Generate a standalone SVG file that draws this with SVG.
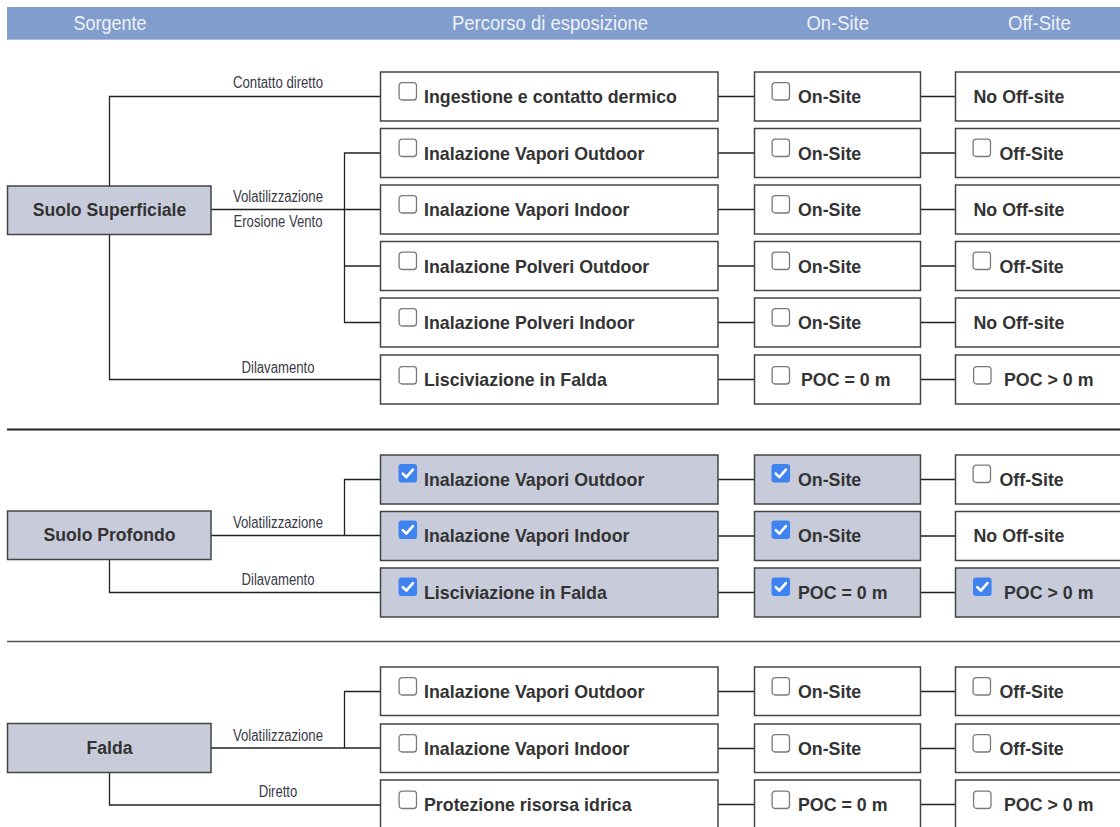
<svg xmlns="http://www.w3.org/2000/svg" xmlns:xlink="http://www.w3.org/1999/xlink" width="1120" height="827" viewBox="0 0 1120 827">
<style>
.hdr{fill:#819dcd}
.ht{font-family:"Liberation Sans",Arial,sans-serif;font-size:21px;fill:#edf1f8;text-anchor:middle}
.box{fill:#fff;stroke:#444;stroke-width:1.5}
.sel{fill:#c8cbda;stroke:#444;stroke-width:1.5}
.bt{font-family:"Liberation Sans",Arial,sans-serif;font-size:17.8px;font-weight:bold;fill:#333}
.st{font-family:"Liberation Sans",Arial,sans-serif;font-size:17.6px;font-weight:bold;fill:#333;text-anchor:middle}
.lbl{font-family:"Liberation Sans",Arial,sans-serif;font-size:16px;fill:#3a3a48;text-anchor:middle}
.con{fill:none;stroke:#222;stroke-width:1.3}
</style>
<defs>
<g id="cbOff"><rect x="0.6" y="0.6" width="17.4" height="17.4" rx="3" fill="#fff" stroke="#7a7a7a" stroke-width="1.3"/></g>
<g id="cbOn"><rect x="0" y="0" width="18.6" height="18.6" rx="3" fill="#3f83f0"/><path d="M4.3 9.6 L7.8 13.2 L14.4 5.6" fill="none" stroke="#fff" stroke-width="2.6" stroke-linecap="round" stroke-linejoin="round"/></g>
</defs>
<rect width="1120" height="827" fill="#fff"/>
<g id="header">
<rect class="hdr" x="7" y="7" width="1113" height="33"/>
<line x1="7" y1="39.5" x2="1120" y2="39.5" stroke="#a9bde0" stroke-width="1"/>
<text class="ht" x="110" y="30" textLength="73" lengthAdjust="spacingAndGlyphs">Sorgente</text>
<text class="ht" x="550" y="30" textLength="196" lengthAdjust="spacingAndGlyphs">Percorso di esposizione</text>
<text class="ht" x="837.7" y="30" textLength="62.6" lengthAdjust="spacingAndGlyphs">On-Site</text>
<text class="ht" x="1039.4" y="30" textLength="62.7" lengthAdjust="spacingAndGlyphs">Off-Site</text>
</g>
<g id="connectors">
<path class="con" d="M109.5 186 V96.5 H380"/>
<path class="con" d="M211 209.5 H380"/>
<path class="con" d="M380 153 H344.5 V322.5 H380 M344.5 266 H380"/>
<path class="con" d="M109.5 234 V379.5 H380"/>
<path class="con" d="M718 96.5 H754 M920 96.5 H955 M718 153 H754 M920 153 H955 M718 209.5 H754 M920 209.5 H955 M718 266 H754 M920 266 H955 M718 322.5 H754 M920 322.5 H955 M718 379.5 H754 M920 379.5 H955"/>
<path class="con" d="M211 535.5 H380 M380 479.5 H344.5 V535.5"/>
<path class="con" d="M109.5 559 V592.5 H380"/>
<path class="con" d="M718 479.5 H754 M920 479.5 H955 M718 536 H754 M920 536 H955 M718 592.5 H754 M920 592.5 H955"/>
<path class="con" d="M211 748 H380 M380 691.5 H344.5 V748"/>
<path class="con" d="M109.5 772.5 V805 H380"/>
<path class="con" d="M718 691.5 H754 M920 691.5 H955 M718 748.5 H754 M920 748.5 H955 M718 804.5 H754 M920 804.5 H955"/>
<text class="lbl" x="278" y="88" textLength="90" lengthAdjust="spacingAndGlyphs">Contatto diretto</text>
<text class="lbl" x="278" y="202" textLength="90" lengthAdjust="spacingAndGlyphs">Volatilizzazione</text>
<text class="lbl" x="278" y="227" textLength="89" lengthAdjust="spacingAndGlyphs">Erosione Vento</text>
<text class="lbl" x="278" y="373" textLength="73" lengthAdjust="spacingAndGlyphs">Dilavamento</text>
<text class="lbl" x="278" y="528" textLength="90" lengthAdjust="spacingAndGlyphs">Volatilizzazione</text>
<text class="lbl" x="278" y="585" textLength="73" lengthAdjust="spacingAndGlyphs">Dilavamento</text>
<text class="lbl" x="278" y="741" textLength="90" lengthAdjust="spacingAndGlyphs">Volatilizzazione</text>
<text class="lbl" x="278" y="797" textLength="38.5" lengthAdjust="spacingAndGlyphs">Diretto</text>
</g>
<g id="separators">
<line x1="7" y1="429.5" x2="1120" y2="429.5" stroke="#222" stroke-width="2"/>
<line x1="7" y1="641.5" x2="1120" y2="641.5" stroke="#555" stroke-width="1.5"/>
</g>
<!-- Sources -->
<g id="src-suolo-superficiale"><rect class="sel" x="7.5" y="186" width="203.5" height="48.5"/><text class="st" x="109.5" y="216">Suolo Superficiale</text></g>
<g id="src-suolo-profondo"><rect class="sel" x="7.5" y="511" width="203.5" height="48.5"/><text class="st" x="109.5" y="541">Suolo Profondo</text></g>
<g id="src-falda"><rect class="sel" x="7.5" y="723.5" width="203.5" height="49"/><text class="st" x="109.5" y="754">Falda</text></g>
<!-- Section 1 -->
<g id="p1"><rect class="box" x="380.5" y="72" width="337.5" height="49"/><use href="#cbOff" x="398.5" y="82"/><text class="bt" x="424" y="103">Ingestione e contatto dermico</text></g>
<g id="on1"><rect class="box" x="754.5" y="72" width="166" height="49"/><use href="#cbOff" x="771.5" y="82"/><text class="bt" x="798" y="103">On-Site</text></g>
<g id="off1"><rect class="box" x="955.5" y="72" width="170" height="49"/><text class="bt" x="973.5" y="103">No Off-site</text></g>
<g id="p2"><rect class="box" x="380.5" y="128.5" width="337.5" height="49"/><use href="#cbOff" x="398.5" y="138.5"/><text class="bt" x="424" y="159.5">Inalazione Vapori Outdoor</text></g>
<g id="on2"><rect class="box" x="754.5" y="128.5" width="166" height="49"/><use href="#cbOff" x="771.5" y="138.5"/><text class="bt" x="798" y="159.5">On-Site</text></g>
<g id="off2"><rect class="box" x="955.5" y="128.5" width="170" height="49"/><use href="#cbOff" x="972.5" y="138.5"/><text class="bt" x="999.5" y="159.5">Off-Site</text></g>
<g id="p3"><rect class="box" x="380.5" y="185" width="337.5" height="49"/><use href="#cbOff" x="398.5" y="195"/><text class="bt" x="424" y="216">Inalazione Vapori Indoor</text></g>
<g id="on3"><rect class="box" x="754.5" y="185" width="166" height="49"/><use href="#cbOff" x="771.5" y="195"/><text class="bt" x="798" y="216">On-Site</text></g>
<g id="off3"><rect class="box" x="955.5" y="185" width="170" height="49"/><text class="bt" x="973.5" y="216">No Off-site</text></g>
<g id="p4"><rect class="box" x="380.5" y="241.5" width="337.5" height="49"/><use href="#cbOff" x="398.5" y="251.5"/><text class="bt" x="424" y="272.5">Inalazione Polveri Outdoor</text></g>
<g id="on4"><rect class="box" x="754.5" y="241.5" width="166" height="49"/><use href="#cbOff" x="771.5" y="251.5"/><text class="bt" x="798" y="272.5">On-Site</text></g>
<g id="off4"><rect class="box" x="955.5" y="241.5" width="170" height="49"/><use href="#cbOff" x="972.5" y="251.5"/><text class="bt" x="999.5" y="272.5">Off-Site</text></g>
<g id="p5"><rect class="box" x="380.5" y="298" width="337.5" height="49"/><use href="#cbOff" x="398.5" y="308"/><text class="bt" x="424" y="329">Inalazione Polveri Indoor</text></g>
<g id="on5"><rect class="box" x="754.5" y="298" width="166" height="49"/><use href="#cbOff" x="771.5" y="308"/><text class="bt" x="798" y="329">On-Site</text></g>
<g id="off5"><rect class="box" x="955.5" y="298" width="170" height="49"/><text class="bt" x="973.5" y="329">No Off-site</text></g>
<g id="p6"><rect class="box" x="380.5" y="355" width="337.5" height="49"/><use href="#cbOff" x="398.5" y="366"/><text class="bt" x="424" y="386">Lisciviazione in Falda</text></g>
<g id="on6"><rect class="box" x="754.5" y="355" width="166" height="49"/><use href="#cbOff" x="771.5" y="366"/><text class="bt" x="801" y="386">POC = 0 m</text></g>
<g id="off6"><rect class="box" x="955.5" y="355" width="170" height="49"/><use href="#cbOff" x="973" y="366"/><text class="bt" x="1004" y="386">POC &gt; 0 m</text></g>
<!-- Section 2 -->
<g id="p7"><rect class="sel" x="380.5" y="455" width="337.5" height="49"/><use href="#cbOn" x="398.5" y="464"/><text class="bt" x="424" y="485.5">Inalazione Vapori Outdoor</text></g>
<g id="on7"><rect class="sel" x="754.5" y="455" width="166" height="49"/><use href="#cbOn" x="771.5" y="464"/><text class="bt" x="798" y="485.5">On-Site</text></g>
<g id="off7"><rect class="box" x="955.5" y="455" width="170" height="49"/><use href="#cbOff" x="972.5" y="464.5"/><text class="bt" x="999.5" y="485.5">Off-Site</text></g>
<g id="p8"><rect class="sel" x="380.5" y="511.5" width="337.5" height="49"/><use href="#cbOn" x="398.5" y="520.5"/><text class="bt" x="424" y="542">Inalazione Vapori Indoor</text></g>
<g id="on8"><rect class="sel" x="754.5" y="511.5" width="166" height="49"/><use href="#cbOn" x="771.5" y="520.5"/><text class="bt" x="798" y="542">On-Site</text></g>
<g id="off8"><rect class="box" x="955.5" y="511.5" width="170" height="49"/><text class="bt" x="973.5" y="542">No Off-site</text></g>
<g id="p9"><rect class="sel" x="380.5" y="568" width="337.5" height="49"/><use href="#cbOn" x="398.5" y="577.5"/><text class="bt" x="424" y="598.5">Lisciviazione in Falda</text></g>
<g id="on9"><rect class="sel" x="754.5" y="568" width="166" height="49"/><use href="#cbOn" x="771.5" y="577.5"/><text class="bt" x="798" y="598.5">POC = 0 m</text></g>
<g id="off9"><rect class="sel" x="955.5" y="568" width="170" height="49"/><use href="#cbOn" x="973" y="577.5"/><text class="bt" x="1004" y="598.5">POC &gt; 0 m</text></g>
<!-- Section 3 -->
<g id="p10"><rect class="box" x="380.5" y="667" width="337.5" height="48.5"/><use href="#cbOff" x="398.5" y="677"/><text class="bt" x="424" y="697.5">Inalazione Vapori Outdoor</text></g>
<g id="on10"><rect class="box" x="754.5" y="667" width="166" height="48.5"/><use href="#cbOff" x="771.5" y="677"/><text class="bt" x="798" y="697.5">On-Site</text></g>
<g id="off10"><rect class="box" x="955.5" y="667" width="170" height="48.5"/><use href="#cbOff" x="972.5" y="677"/><text class="bt" x="999.5" y="697.5">Off-Site</text></g>
<g id="p11"><rect class="box" x="380.5" y="724" width="337.5" height="48.5"/><use href="#cbOff" x="398.5" y="734"/><text class="bt" x="424" y="754.5">Inalazione Vapori Indoor</text></g>
<g id="on11"><rect class="box" x="754.5" y="724" width="166" height="48.5"/><use href="#cbOff" x="771.5" y="734"/><text class="bt" x="798" y="754.5">On-Site</text></g>
<g id="off11"><rect class="box" x="955.5" y="724" width="170" height="48.5"/><use href="#cbOff" x="972.5" y="734"/><text class="bt" x="999.5" y="754.5">Off-Site</text></g>
<g id="p12"><rect class="box" x="380.5" y="780" width="337.5" height="60"/><use href="#cbOff" x="398.5" y="790.5"/><text class="bt" x="424" y="810.5">Protezione risorsa idrica</text></g>
<g id="on12"><rect class="box" x="754.5" y="780" width="166" height="60"/><use href="#cbOff" x="771.5" y="790.5"/><text class="bt" x="798" y="810.5">POC = 0 m</text></g>
<g id="off12"><rect class="box" x="955.5" y="780" width="170" height="60"/><use href="#cbOff" x="973" y="790.5"/><text class="bt" x="1004" y="810.5">POC &gt; 0 m</text></g>
</svg>
